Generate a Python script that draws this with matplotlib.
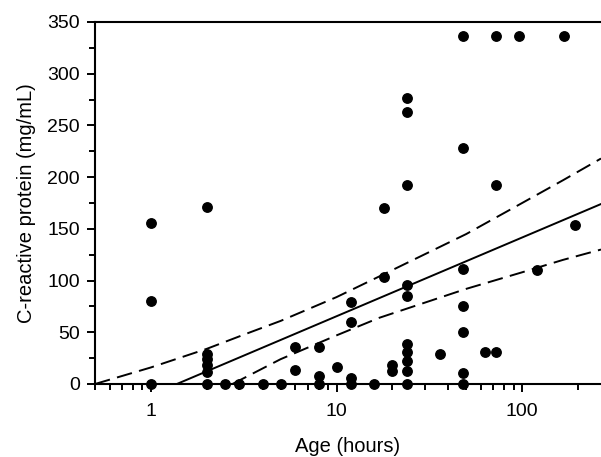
import matplotlib
matplotlib.use("Agg")
import matplotlib.pyplot as plt
import matplotlib.ticker as ticker

# Data points
AGE_HOURS = [1, 1, 1,
             2, 2, 2, 2, 2, 2,
             2.5, 3, 4, 5,
             6, 6,
             8, 8, 8,
             10,
             12, 12, 12, 12,
             16,
             18, 18,
             20, 20,
             24, 24, 24, 24, 24, 24, 24, 24, 24, 24,
             36,
             48, 48, 48, 48, 48, 48, 48,
             63,
             72, 72, 72,
             96, 120, 168, 192]
CRP = [156, 80, 0,
       171, 29, 24, 18, 12, 0,
       0, 0, 0, 0,
       36, 14,
       36, 8, 0,
       16,
       79, 60, 6, 0,
       0,
       170, 103,
       18, 13,
       277, 263, 192, 96, 85, 39, 31, 22, 13, 0,
       29,
       336, 228, 111, 75, 50, 11, 0,
       31,
       336, 192, 31,
       336, 110, 336, 154]

# Regression line and its band
REG_X = [1.38, 266]
REG_Y = [0, 174]
UPPER_X = [0.5, 1, 2, 3.2, 5, 10, 17, 50, 100, 166, 266]
UPPER_Y = [0, 16, 34, 48, 61, 84, 104, 145, 175, 197, 218]
LOWER_X = [2.75, 5, 10, 17, 50, 100, 166, 266]
LOWER_Y = [0, 24, 47, 64, 92, 108, 120, 130]

X_LIM = (0.5, 266)
Y_LIM = (0, 350)
FONT = "Liberation Sans"
TICK_SIZE = 14
LABEL_SIZE = 14.5
LINE_WIDTH = 1.4


def _setup(fig, ax):
    ax.set_xscale("log")
    ax.set_xlim(*X_LIM)
    ax.set_ylim(*Y_LIM)

    ax.spines["right"].set_visible(False)
    for side in ("left", "top", "bottom"):
        ax.spines[side].set_linewidth(1.5)

    # Ticks
    ax.xaxis.set_major_locator(ticker.FixedLocator([1, 10, 100]))
    ax.xaxis.set_major_formatter(ticker.FuncFormatter(lambda x, pos: "%g" % x))
    ax.xaxis.set_minor_locator(ticker.LogLocator(base=10, subs=range(2, 10)))
    ax.xaxis.set_minor_formatter(ticker.NullFormatter())
    ax.yaxis.set_major_locator(ticker.MultipleLocator(50))
    ax.yaxis.set_minor_locator(ticker.MultipleLocator(25))
    ax.tick_params(which="both", direction="out", width=1.4,
                   top=False, right=False)
    ax.tick_params(which="major", length=6, labelsize=TICK_SIZE)
    ax.tick_params(which="minor", length=4)
    ax.tick_params(axis="x", which="major", pad=8)
    ax.tick_params(axis="y", which="major", pad=5)

    # Labels
    ax.set_xlabel("Age (hours)", fontsize=LABEL_SIZE, labelpad=12)
    ax.set_ylabel("C-reactive protein (mg/mL)", fontsize=LABEL_SIZE,
                  labelpad=8)


def _plot(fig, ax):
    ax.plot(REG_X, REG_Y, color="black", linewidth=LINE_WIDTH, zorder=2)
    ax.plot(UPPER_X, UPPER_Y, color="black", linewidth=LINE_WIDTH,
            dashes=(8, 3.8), zorder=2)
    ax.plot(LOWER_X, LOWER_Y, color="black", linewidth=LINE_WIDTH,
            dashes=(8, 3.8), zorder=2)
    ax.plot(AGE_HOURS, CRP, "o", color="black", markersize=6.8,
            clip_on=False, zorder=3)


if __name__ == "__main__":
    plt.rcParams["font.family"] = [FONT, "DejaVu Sans"]
    fig = plt.figure(figsize=(6.01, 4.57), dpi=100, facecolor="white")
    ax = fig.add_axes([95 / 601, (457 - 384) / 457, 506 / 601, 362 / 457])
    _setup(fig, ax)
    _plot(fig, ax)
    fig.savefig("out.png", dpi=100)
